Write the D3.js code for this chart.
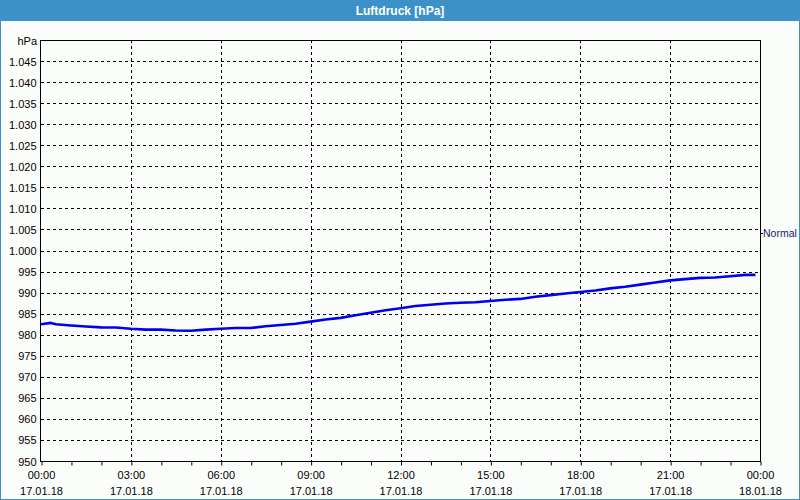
<!DOCTYPE html>
<html><head><meta charset="utf-8">
<script src="https://cdn.jsdelivr.net/npm/d3@7"></script>
<style>
html,body{margin:0;padding:0;background:#fbfdfb;}
svg{display:block;}
</style></head>
<body>
<svg id="c" width="800" height="500"></svg>
<script>
const title = "Luftdruck [hPa]";
const unitLabel = "hPa";
const refLabel = "Normal";
const refValue = 1004.2;
// hours since 17.01.18 00:00
const hours = [0,0.33,0.5,1,1.5,2,2.5,3,3.5,4,4.5,5,5.5,6,6.5,7,7.5,8,8.5,9,9.5,10,10.5,11,11.5,12,12.5,13,13.5,14,14.5,15,15.5,16,16.5,17,17.5,18,18.5,19,19.5,20,20.5,21,21.5,22,22.5,23,23.5,23.85];
const pressure = [982.5,982.8,982.5,982.2,981.95,981.75,981.7,981.4,981.2,981.2,981.0,980.95,981.2,981.4,981.6,981.6,982.0,982.3,982.6,983.1,983.6,984.0,984.6,985.2,985.8,986.3,986.8,987.1,987.4,987.6,987.7,988.0,988.3,988.5,989.0,989.4,989.8,990.15,990.5,991.0,991.4,991.9,992.4,992.9,993.2,993.5,993.6,993.9,994.2,994.2];
const yTicks = [950,955,960,965,970,975,980,985,990,995,1000,1005,1010,1015,1020,1025,1030,1035,1040,1045];
const xTickHours = [0,3,6,9,12,15,18,21,24];
const xTimeLabels = ["00:00","03:00","06:00","09:00","12:00","15:00","18:00","21:00","00:00"];
const xDateLabels = ["17.01.18","17.01.18","17.01.18","17.01.18","17.01.18","17.01.18","17.01.18","17.01.18","18.01.18"];

const svg = d3.select("#c");
const FONT = "Liberation Sans, Arial, sans-serif";
const FS = 11;
const L = 41, R = 760, T = 40, B = 461;
const x = d3.scaleLinear().domain([0,24]).range([L,R]);
const y = d3.scaleLinear().domain([950,1050]).range([B,T]);

// frame + title bar
svg.append("rect").attr("x",0.5).attr("y",0.5).attr("width",799).attr("height",499)
  .attr("fill","#fbfdfb").attr("stroke","#3c91c8");
svg.append("rect").attr("x",0).attr("y",0).attr("width",800).attr("height",21).attr("fill","#3c91c8");
svg.append("text").attr("x",400).attr("y",15).attr("text-anchor","middle")
  .attr("font-family",FONT).attr("font-size",12).attr("font-weight","bold").attr("fill","#fff").text(title);

const fmt = v => v >= 1000 ? "1." + String(v - 1000).padStart(3,"0") : String(v);

// grid
const g = svg.append("g");
g.selectAll("line.hg").data(yTicks.filter(v=>v>950)).join("line")
  .attr("x1",L).attr("x2",R).attr("y1",d=>Math.round(y(d))+0.5).attr("y2",d=>Math.round(y(d))+0.5)
  .attr("stroke","#000").attr("stroke-dasharray","3,3");
g.selectAll("line.vg").data(xTickHours.slice(1,-1)).join("line")
  .attr("y1",T).attr("y2",B).attr("x1",d=>Math.round(x(d))+0.5).attr("x2",d=>Math.round(x(d))+0.5)
  .attr("stroke","#000").attr("stroke-dasharray","3,3");

// y axis
const yAxis = d3.axisLeft(y).tickValues(yTicks).tickSize(0).tickPadding(4).tickFormat(fmt);
const ya = svg.append("g").attr("transform",`translate(${L-0.5},0.5)`).call(yAxis);
ya.select(".domain").remove();
ya.selectAll("text").attr("font-family",FONT).attr("font-size",FS).attr("fill","#000");
svg.append("text").attr("x",L-4).attr("y",T+5).attr("text-anchor","end")
  .attr("font-family",FONT).attr("font-size",FS).attr("fill","#000").text(unitLabel);

// x axis with hourly ticks
const xAxis = d3.axisBottom(x).tickValues(d3.range(0,25,1)).tickSize(4).tickFormat("");
const xa = svg.append("g").attr("transform",`translate(0.5,${B+0.5})`).call(xAxis);
xa.select(".domain").remove();
xa.selectAll("line").attr("stroke","#000");
const xl = svg.append("g");
xl.selectAll("text.t").data(xTickHours).join("text")
  .attr("x",d=>x(d)+0.5).attr("y",479).attr("text-anchor","middle")
  .attr("font-family",FONT).attr("font-size",FS).attr("fill","#000").text((d,i)=>xTimeLabels[i]);
xl.selectAll("text.d").data(xTickHours).join("text").attr("class","d")
  .attr("x",d=>x(d)+0.5).attr("y",495).attr("text-anchor","middle")
  .attr("font-family",FONT).attr("font-size",FS).attr("fill","#000").text((d,i)=>xDateLabels[i]);

// plot border
svg.append("rect").attr("x",L-0.5).attr("y",T+0.5).attr("width",R-L+1).attr("height",B-T)
  .attr("fill","none").attr("stroke","#000");

// right reference label
svg.append("line").attr("x1",R+0.5).attr("x2",R+3).attr("y1",Math.round(y(refValue))+0.5).attr("y2",Math.round(y(refValue))+0.5).attr("stroke","#000");
svg.append("text").attr("x",R+3).attr("y",y(refValue)+4).attr("font-family",FONT).attr("font-size",10.5)
  .attr("fill","#1a1a6a").text(refLabel);

// data line
const line = d3.line().x((d,i)=>x(hours[i])).y(d=>y(d));
svg.append("path").datum(pressure).attr("d",line).attr("fill","none")
  .attr("stroke","#0000ee").attr("stroke-width",2.6).attr("stroke-linejoin","round");
</script>
</body></html>
